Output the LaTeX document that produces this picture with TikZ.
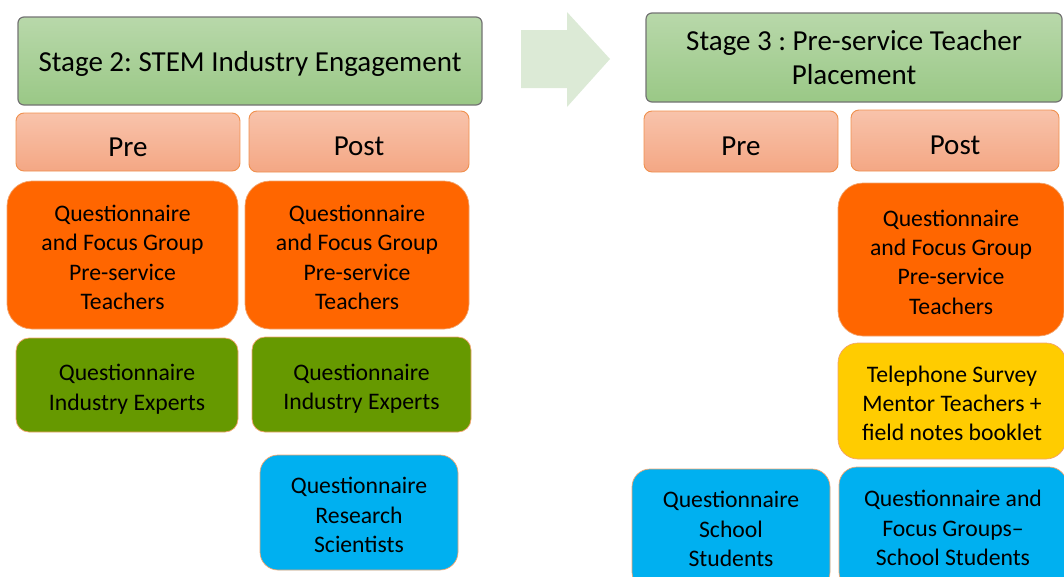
\documentclass[tikz,border=0pt]{standalone}
\usepackage{fontspec}
\setmainfont{Carlito}
\frenchspacing
% centred stack of lines whose baseline is the last line
\newcommand{\stacklines}[1]{\begin{tabular}[b]{@{}c@{}}#1\end{tabular}}
\begin{document}
\begin{tikzpicture}[x=1pt,y=-1pt,
  box/.style={inner sep=0pt, align=center, text=black},
  stagebox/.style={box, draw=black!55, line width=1.2pt, rounded corners=6pt,
    top color=stagetop, bottom color=stagebot,
    font=\fontsize{29}{34}\selectfont},
  phasebox/.style={box, draw=phaseedge, line width=0.9pt, rounded corners=8pt,
    top color=phasetop, bottom color=phasebot, text height=28.6pt, text depth=0pt,
    font=\fontsize{29}{34}\selectfont},
  itembox/.style={inner sep=0pt, text=black, draw=itemedge, line width=0.7pt,
    font=\fontsize{23.7}{29.3}\selectfont, text depth=0pt},
  two/.style={text height=50.5pt},
  three/.style={text height=79.8pt},
  four/.style={text height=109.1pt},
  orangebox/.style={itembox, fill=qorange, rounded corners=25pt},
  greenbox/.style={itembox, fill=qgreen, rounded corners=13pt},
  bluebox/.style={itembox, fill=qblue, rounded corners=18pt},
  yellowbox/.style={itembox, fill=qyellow, rounded corners=20pt}
]
\definecolor{stagetop}{HTML}{B8D8AA}
\definecolor{stagebot}{HTML}{9AC886}
\definecolor{phasetop}{HTML}{F8C3AB}
\definecolor{phasebot}{HTML}{F4A784}
\definecolor{phaseedge}{HTML}{F0904E}
\definecolor{itemedge}{HTML}{F2A46E}
\definecolor{qorange}{HTML}{FF6600}
\definecolor{qgreen}{HTML}{669900}
\definecolor{qblue}{HTML}{00B0F0}
\definecolor{qyellow}{HTML}{FFCC00}
\definecolor{arrowfill}{HTML}{DCEAD6}

\useasboundingbox (0,0) rectangle (1064,576);
\clip (0,0) rectangle (1064,576);

% stage headers
\node[stagebox, text depth=0pt, minimum width=464pt, minimum height=88pt] (s2) at (250,61)
  {Stage 2: STEM Industry Engagement};
\node[stagebox, minimum width=416pt, minimum height=89pt] (s3) at (854,57.5)
  {Stage 3 : Pre-service Teacher\\Placement};

% block arrow between the stages
\fill[arrowfill] (521,30) -- (567,30) -- (567,12) -- (610,59) -- (567,107)
  -- (567,88) -- (521,88) -- cycle;

% pre / post headers
\node[phasebox, minimum width=224pt, minimum height=58pt] (pre2) at (128,142) {Pre};
\node[phasebox, minimum width=220pt, minimum height=61pt] (post2) at (359,141.5) {Post};
\node[phasebox, minimum width=194pt, minimum height=61pt] (pre3) at (741,141.5) {Pre};
\node[phasebox, minimum width=208pt, minimum height=61pt] (post3) at (955,140.5) {Post};

% stage 2 instruments
\node[orangebox, four, minimum width=231pt, minimum height=148pt] (qpt2a) at (122.5,255)
  {\stacklines{Questionnaire\\and Focus Group\\Pre-service\\Teachers}};
\node[orangebox, four, minimum width=224pt, minimum height=148pt] (qpt2b) at (357,255)
  {\stacklines{Questionnaire\\and Focus Group\\Pre-service\\Teachers}};
\node[greenbox, two, minimum width=222pt, minimum height=94pt] (qie2a) at (127,385)
  {\stacklines{Questionnaire\\Industry Experts}};
\node[greenbox, two, minimum width=219pt, minimum height=95pt] (qie2b) at (361.5,384.5)
  {\stacklines{Questionnaire\\Industry Experts}};
\node[bluebox, three, minimum width=198pt, minimum height=115pt] (qrs2) at (359,512.5)
  {\stacklines{Questionnaire\\Research\\Scientists}};

% stage 3 instruments
\node[orangebox, four, minimum width=226pt, minimum height=153pt] (qpt3) at (951,259.5)
  {\stacklines{Questionnaire\\and Focus Group\\Pre-service\\Teachers}};
\node[yellowbox, three, minimum width=228pt, minimum height=116pt] (tel3) at (952,401)
  {\stacklines{Telephone Survey\\Mentor Teachers +\\field notes booklet}};
\node[bluebox, text height=73.8pt, minimum width=198pt, minimum height=121pt] (qss3a) at (731,529.5)
  {\stacklines{Questionnaire\\School\\Students}};
\node[bluebox, text height=73.8pt, minimum width=228pt, minimum height=123pt] (qss3b) at (953,528.5)
  {\stacklines{Questionnaire and\\Focus Groups--\\School Students}};
\end{tikzpicture}
\end{document}
